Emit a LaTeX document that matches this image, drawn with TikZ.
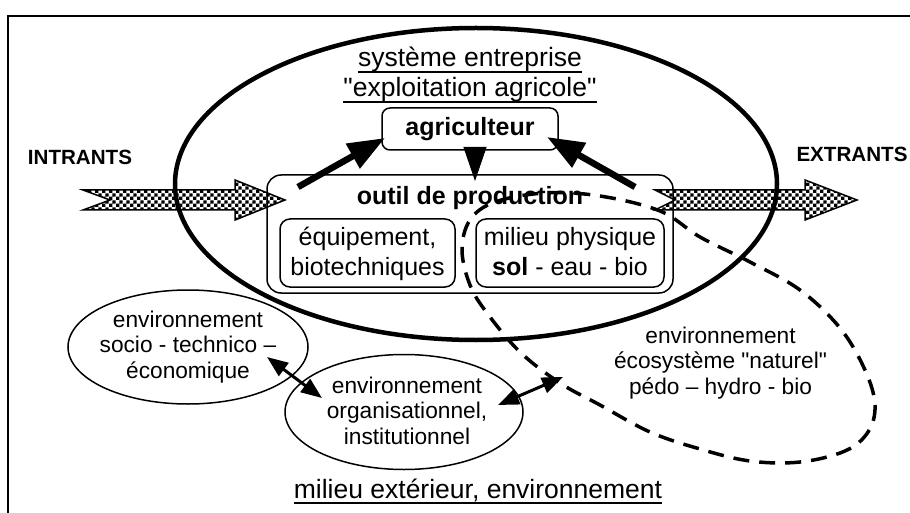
\documentclass[tikz,border=0pt]{standalone}
\usepackage{fontspec}
\setmainfont{Liberation Sans}[Ligatures=TeXOff]
\usetikzlibrary{shapes.geometric,arrows.meta,calc,patterns}
\pgfdeclarepatternformonly{bigcheck}{\pgfpointorigin}{\pgfqpoint{6.8pt}{6.8pt}}{\pgfqpoint{6.8pt}{6.8pt}}{%
  \pgfpathrectangle{\pgfpointorigin}{\pgfqpoint{3.45pt}{3.45pt}}%
  \pgfpathrectangle{\pgfqpoint{3.4pt}{3.4pt}}{\pgfqpoint{3.45pt}{3.45pt}}%
  \pgfusepath{fill}}
\newcommand\myul[1]{\setbox0\hbox{#1}\rlap{\rule[-6pt]{\wd0}{2pt}}\box0}
\newcommand\tlines[1]{\begin{tabular}[t]{@{}c@{}}#1\end{tabular}}
\tikzset{
  every node/.style={inner sep=0pt, outer sep=0pt},
  rbox/.style={draw, line width=1.5pt},
  envell/.style={ellipse, draw, line width=1.5pt},
  bigell/.style={ellipse, draw, line width=4.5pt},
  bigarrow/.style={line width=6.5pt, -{Triangle[length=37pt,width=27pt]}},
  headonly/.style={line width=1pt, -{Triangle[length=34pt,width=23pt]}},
  dblarrow/.style={line width=3pt, {Triangle[length=21pt,width=16pt]}-{Triangle[length=21pt,width=16pt]}},
  dashline/.style={line width=3.5pt, dash pattern=on 16pt off 10pt},
  blockarrow/.style={draw, line width=1.5pt, pattern=bigcheck},
  ftitle/.style={font=\fontsize{26.5}{30}\selectfont},
  fbox/.style={font=\fontsize{25}{30}\selectfont},
  fboxb/.style={font=\bfseries\fontsize{25}{30}\selectfont},
  fell/.style={font=\fontsize{22.7}{25.5}\selectfont},
  fio/.style={font=\bfseries\fontsize{20.6}{24}\selectfont},
}
\begin{document}
\begin{tikzpicture}[x=1pt,y=-1pt]
\useasboundingbox (0,0) rectangle (910,513);
% frame
\draw[line width=2pt] (8,530) -- (8,16) -- (930,16);
% big system ellipse
\node[bigell, minimum width=602pt, minimum height=312pt] (sys) at (476,184) {};
\node[ftitle, anchor=base] (title) at (470,67) {\tlines{\myul{système entreprise}\\\myul{"exploitation agricole"}}};
% agriculteur
\node[rbox, rounded corners=8pt, minimum width=176pt, minimum height=42pt, fboxb] (agri) at (470,129) {agriculteur};
% outil de production
\node[rbox, rounded corners=14pt, minimum width=406pt, minimum height=118pt] (outil) at (470,234) {};
\node[fboxb, anchor=base] (outilt) at (470,205) {outil de production};
\node[rbox, rounded corners=10pt, minimum width=175pt, minimum height=68pt] (equip) at (367.5,253) {};
\node[fbox, anchor=base] (equipt) at (367.5,245) {\tlines{équipement,\\biotechniques}};
\node[rbox, rounded corners=10pt, minimum width=188pt, minimum height=68pt] (milieu) at (570,253) {};
\node[fbox, anchor=base] (milieut) at (570,245) {\tlines{milieu physique\\\textbf{sol} - eau - bio}};
% environment ellipses
\node[envell, minimum width=240pt, minimum height=114pt] (socio) at (188,347) {};
\node[fell, anchor=base] (sociot) at (188,327) {\tlines{environnement\\socio - technico –\\économique}};
\node[envell, minimum width=238pt, minimum height=115pt] (orga) at (404,412) {};
\node[fell, anchor=base] (orgat) at (407,393) {\tlines{environnement\\organisationnel,\\institutionnel}};
\node[fell, anchor=base] (ecot) at (720.5,343) {\tlines{environnement\\écosystème "naturel"\\pédo – hydro - bio}};
\node[ftitle, anchor=base] (milext) at (478,498) {\myul{milieu extérieur, environnement}};
% intrants / extrants
\node[fio, anchor=base] (intr) at (80,165) {INTRANTS};
\node[fio, anchor=base] (extr) at (852,162) {EXTRANTS};
\draw[blockarrow] (83,190) -- (235,190) -- (235,180) -- (285,200) -- (235,220) -- (235,210) -- (83,210) -- (110,200) -- cycle;
\draw[blockarrow] (655,190) -- (805,190) -- (805,180) -- (857,200) -- (805,220) -- (805,210) -- (655,210) -- (675,200) -- cycle;
% natural ecosystem (dashed)
\draw[dashline] plot[smooth cycle, tension=0.6] coordinates {
 (545,193) (600,196) (660,211) (700,237) (750,262) (800,290) (840,328) (865,370) (875,405)
 (868,432) (845,451) (800,462) (750,461) (700,449) (650,432) (600,405) (560,383) (520,352)
 (487,313) (470,285) (462,250) (470,220) (495,202)};
\coordinate (ecoedge) at (563,377);
% arrows
\draw[bigarrow] ($(outil.north west)+(31,12)$) -- ($(agri.south west)+(3,-12)$);
\draw[headonly] ($(agri.south)+(5,0)$) -- ($(outil.north)+(5,6)$);
\draw[bigarrow] ($(outil.north east)+(-38,12)$) -- ($(agri.south east)+(-11,-13)$);
\draw[dblarrow] ($(socio.center)+(79,10)$) -- ($(orga.center)+(-82,-14)$);
\draw[dblarrow] ($(orga.center)+(94,-7)$) -- (ecoedge);
\end{tikzpicture}
\end{document}
